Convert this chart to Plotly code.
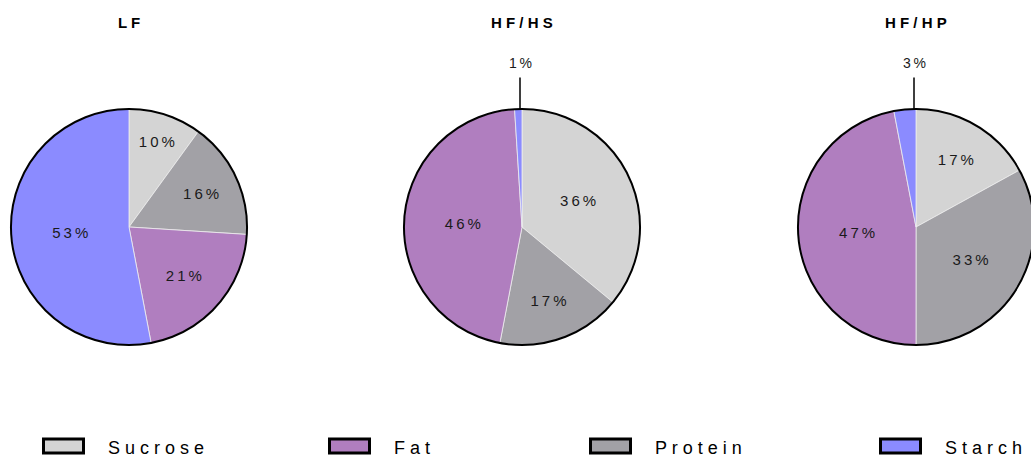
import plotly.graph_objects as go

# 数据：三种饲料的能量来源构成（%）
diets = ['LF', 'HF/HS', 'HF/HP']
ingredients = ['Sucrose', 'Protein', 'Fat', 'Starch']
lf = [10, 16, 21, 53]
hf_hs = [36, 17, 46, 1]
hf_hp = [17, 33, 47, 3]
legend_order = ['Sucrose', 'Fat', 'Protein', 'Starch']

colors = {'Sucrose': '#d4d4d4', 'Protein': '#a2a1a6', 'Fat': '#b07ebf', 'Starch': '#8b8bff'}

W, H = 1040, 462  # 比窗口略宽，使第三个饼图在右边缘被裁切
FONT = 'Arial, Liberation Sans, sans-serif'


def px_x(x):
    # 窗口像素 -> paper 坐标
    return x / W


def px_y(y):
    return 1 - y / H


def spaced(s, sep='\u2009'):
    # 模拟字母间距
    return sep.join(s)


# 每个饼图在窗口中的 x 范围（像素），最后一个超出右边缘
pie_px = [(11, 247), (404, 640), (798, 1034)]
pie_top, pie_bottom = 109, 345

fig = go.Figure()
annotations = []
shapes = []

for name, vals, (x0, x1) in zip(diets, [lf, hf_hs, hf_hp], pie_px):
    dom = dict(x=[px_x(x0), px_x(x1)], y=[px_y(pie_bottom), px_y(pie_top)])
    texts = [spaced(f'{v}%') if v >= 5 else '' for v in vals]
    fig.add_trace(go.Pie(
        labels=ingredients, values=vals, text=texts, textinfo='text',
        textposition='inside', insidetextorientation='horizontal',
        textfont=dict(size=15, color='#1a1a1a', family=FONT),
        marker=dict(colors=[colors[k] for k in ingredients],
                    line=dict(color='#eeeeee', width=0.8)),
        sort=False, direction='clockwise', rotation=0,
        domain=dom, showlegend=False, hoverinfo='label+value'))
    # 外圈黑色边框
    fig.add_trace(go.Pie(
        values=[1], labels=[''], textinfo='none', hoverinfo='skip',
        marker=dict(colors=['rgba(0,0,0,0)'], line=dict(color='black', width=2)),
        domain=dom, showlegend=False, sort=False))

    cx = (x0 + x1) / 2
    # 标题
    annotations.append(dict(
        x=px_x(cx), y=px_y(22), xref='paper', yref='paper',
        xanchor='center', yanchor='middle',
        text=f'<b>{spaced(name, " ")}</b>', showarrow=False,
        font=dict(size=15, color='black', family=FONT)))
    # 小扇区的外部标签与引线
    for v in vals:
        if v < 5:
            annotations.append(dict(
                x=px_x(cx - 2), y=px_y(pie_top), xref='paper', yref='paper',
                text=spaced(f'{v}%'), showarrow=True, arrowhead=0,
                arrowwidth=1.5, arrowcolor='black', ax=0, ay=-46,
                borderpad=6, font=dict(size=14, color='#1a1a1a', family=FONT)))

# 图例（手动绘制宽矩形色块）
legend_px = [42, 328, 589, 879]
for key, lx in zip(legend_order, legend_px):
    shapes.append(dict(
        type='rect', xref='paper', yref='paper',
        x0=px_x(lx + 1.5), x1=px_x(lx + 41.5),
        y0=px_y(453), y1=px_y(439),
        fillcolor=colors[key], line=dict(color='black', width=3)))
    annotations.append(dict(
        x=px_x(lx + 64), y=px_y(448), xref='paper', yref='paper',
        xanchor='left', yanchor='middle', text=spaced(key, ' '), showarrow=False,
        font=dict(size=18, color='black', family=FONT)))

fig.update_layout(
    width=W, height=H,
    margin=dict(l=0, r=0, t=0, b=0),
    paper_bgcolor='white', plot_bgcolor='white',
    uniformtext=dict(minsize=15, mode='show'),
    annotations=annotations, shapes=shapes)

# 去掉页面默认外边距，隐藏工具栏
fig.write_html('out.html', config={'displayModeBar': False},
               post_script="document.body.style.margin='0';document.body.style.overflow='hidden';")
